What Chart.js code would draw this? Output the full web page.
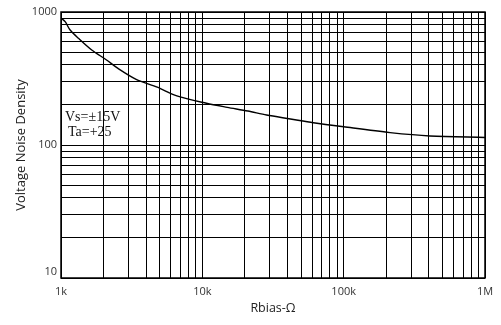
<!DOCTYPE html>
<html><head><meta charset="utf-8">
<script src="https://cdn.jsdelivr.net/npm/chart.js@4/dist/chart.umd.min.js"></script>
<style>html,body{margin:0;padding:0;background:#fff}#wrap{width:501px;height:325px}</style>
</head><body><div id="wrap"><canvas id="c" width="501" height="325"></canvas></div>
<script>
// Data
const rbias = [1000, 1070, 1160, 1330, 1650, 2100, 2500, 3400, 4800, 6600, 10700, 15000, 21000, 28500, 42000, 61000, 100000, 213000, 408000, 1000000];
const noise = [900, 846, 732, 634, 518, 436, 380, 312, 272, 234, 206, 192, 180, 168, 157, 147, 137, 124, 117, 114];

// Grid / tick values
const xTickValues = [1000,2000,3000,4000,5000,6000,7000,8000,9000,
  10000,20000,30000,40000,50000,60000,70000,80000,90000,
  100000,200000,300000,400000,500000,600000,700000,800000,900000,1000000];
const xLabelValues = [1000, 10000, 100000, 1000000];
const xLabelTexts = ['1k', '10k', '100k', '1M'];
const yTickValues = [10,20,30,40,50,60,70,80,90,100,200,300,400,500,600,700,800,900,1000];
const yLabelValues = [10, 100, 1000];
const yLabelTexts = ['10', '100', '1000'];
const noteLines = ['Vs=\u00B115V', 'Ta=+25'];

const frame = {
  id: 'frame',
  afterDraw(chart) {
    const {ctx, chartArea: a} = chart;
    ctx.save();
    ctx.strokeStyle = '#000';
    ctx.lineWidth = 1.5;
    ctx.strokeRect(a.left, a.top, a.right - a.left, a.bottom - a.top);
    ctx.fillStyle = '#111';
    ctx.font = '14px "Liberation Serif", serif';
    ctx.textBaseline = 'middle';
    ctx.textAlign = 'left';
    ctx.fillText(noteLines[0], a.left + 4, 117);
    ctx.fillText(noteLines[1], a.left + 7, 132);
    ctx.restore();
  }
};

new Chart(document.getElementById('c'), {
  type: 'line',
  data: {
    datasets: [{
      data: rbias.map((x, i) => ({x, y: noise[i]})),
      borderColor: '#000',
      borderWidth: 1.4,
      pointRadius: 0,
      tension: 0.3,
      fill: false
    }]
  },
  options: {
    responsive: false,
    devicePixelRatio: 1,
    animation: false,
    layout: {padding: {left: 0, top: 12, right: 16, bottom: 0}},
    plugins: {legend: {display: false}, tooltip: {enabled: false}},
    scales: {
      x: {
        type: 'logarithmic',
        min: 1000, max: 1000000,
        afterBuildTicks: s => { s.ticks = xTickValues.map(v => ({value: v})); },
        afterFit: s => { s.height = 47; },
        grid: {color: '#000', lineWidth: 1, drawTicks: false},
        border: {display: false},
        ticks: {
          autoSkip: false, maxRotation: 0, minRotation: 0, padding: 7,
          color: '#333', font: {family: '"Open Sans", sans-serif', size: 11},
          callback: v => { const i = xLabelValues.indexOf(v); return i >= 0 ? xLabelTexts[i] : ''; }
        },
        title: {display: true, text: 'Rbias-\u03A9', color: '#222',
          font: {family: '"Open Sans", sans-serif', size: 12.5}, padding: {top: 0, bottom: 9}}
      },
      y: {
        type: 'logarithmic',
        min: 10, max: 1000,
        afterBuildTicks: s => { s.ticks = yTickValues.map(v => ({value: v})); },
        afterFit: s => { s.width = 61; },
        grid: {color: '#000', lineWidth: 1, drawTicks: false},
        border: {display: false},
        ticks: {
          autoSkip: false, padding: 4,
          color: '#333', font: {family: '"Open Sans", sans-serif', size: 11},
          callback: v => {
            const i = yLabelValues.indexOf(v);
            if (i < 0) return '';
            return i === 0 ? [yLabelTexts[i], ''] : yLabelTexts[i];
          }
        },
        title: {display: true, text: 'Voltage Noise Density', color: '#222',
          font: {family: '"Open Sans", sans-serif', size: 13}, padding: {top: 13, bottom: 0}}
      }
    }
  },
  plugins: [frame]
});
</script></body></html>
